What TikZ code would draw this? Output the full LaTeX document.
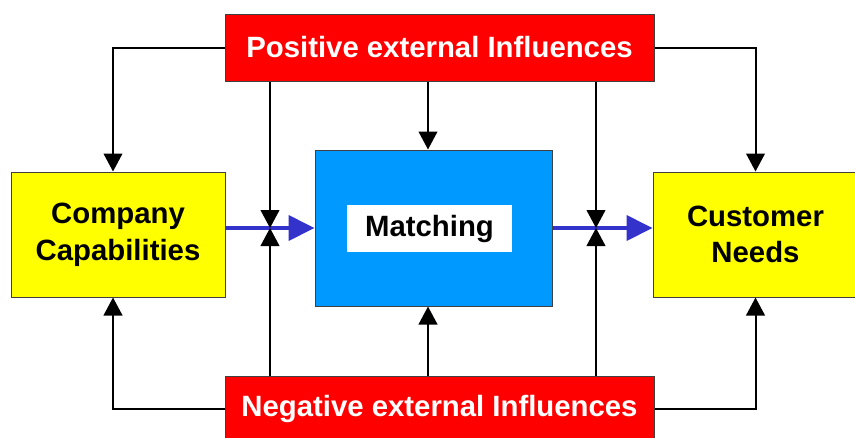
\documentclass[tikz,border=0pt]{standalone}
\usepackage{fontspec}
\setmainfont{Liberation Sans}
\usetikzlibrary{arrows.meta}
\definecolor{infred}{RGB}{255,0,0}
\definecolor{boxyellow}{RGB}{255,255,0}
\definecolor{matchblue}{RGB}{0,153,255}
\definecolor{flowblue}{RGB}{51,51,204}
\definecolor{edgegray}{RGB}{64,64,64}

\begin{document}
\begin{tikzpicture}[x=0.75pt,y=0.75pt,yscale=-1,xscale=1,
  boxtxt/.style={font=\fontsize{22}{27.5}\selectfont\bfseries, align=center, inner sep=0pt},
  infbox/.style={boxtxt, draw=edgegray, line width=0.75pt, fill=infred, text=white, minimum width=321.75pt},
  sidebox/.style={boxtxt, draw=edgegray, line width=0.75pt, fill=boxyellow, minimum height=93.75pt},
  blk/.style={line width=1.5pt, -{Triangle[length=13.5pt,width=14pt]}},
  flow/.style={flowblue, line width=3pt, -{Triangle[length=19.5pt,width=18.75pt]}}]
\useasboundingbox (0,0) rectangle (855,437);

%Shape: Rectangle
\node [infbox, minimum height=50.25pt] (pos) at (439.5,47.5) {Positive external Influences};
%Shape: Rectangle
\node [infbox, minimum height=48.75pt] (neg) at (439.5,408.5) {Negative external Influences};
%Shape: Rectangle
\node [sidebox, minimum width=160.5pt] (cap) at (118,234.5) {Company\\Capabilities};
%Shape: Rectangle
\node [sidebox, minimum width=153.75pt] (need) at (755.5,234.5) {Customer\\Needs};
%Shape: Rectangle
\node [draw=edgegray, line width=0.75pt, fill=matchblue, minimum width=177.75pt, minimum height=117pt] (match) at (433.5,228) {};
% Text Node
\node [boxtxt, fill=white, minimum width=123.75pt, minimum height=35.25pt] (matchlbl) at (429.5,228.5) {Matching};

\coordinate (cl) at (113,0);
\coordinate (cm) at (428,0);
\coordinate (jl) at (270,228);
\coordinate (jr) at (596,228);

% Connection
\draw [flow] (cap.east |- jl) -- (match.west |- jl);
\draw [flow] (match.east |- jr) -- (need.west |- jr);
% Connection
\draw [blk] (pos.west) -| (cl |- cap.north);
\draw [blk] (pos.east) -| (need.north);
\draw [blk] (neg.west) -| (cl |- cap.south);
\draw [blk] (neg.east) -| (need.south);
% Connection
\draw [blk] (pos.south -| jl) -- (jl);
\draw [blk] (neg.north -| jl) -- (jl);
\draw [blk] (pos.south -| jr) -- (jr);
\draw [blk] (neg.north -| jr) -- (jr);
\draw [blk] (cm |- pos.south) -- (cm |- match.north);
\draw [blk] (cm |- neg.north) -- (cm |- match.south);

\end{tikzpicture}
\end{document}
